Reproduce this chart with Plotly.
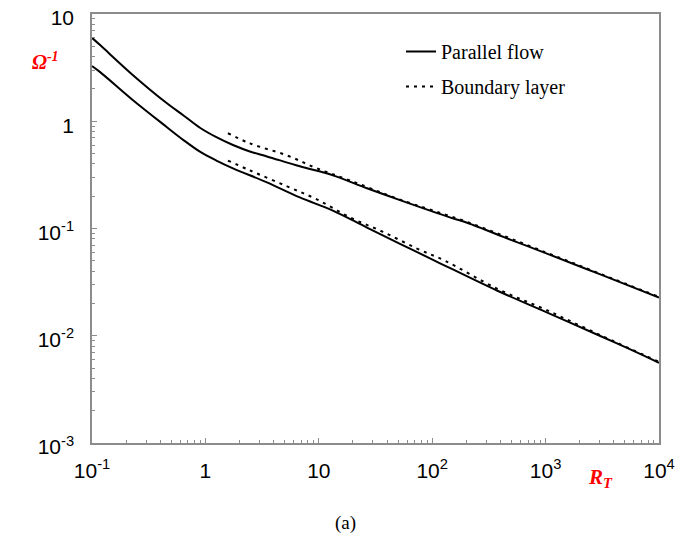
import plotly.graph_objects as go

# ---- data ----
pf_upper_x = [0.1, 0.118, 0.23, 0.458, 0.65, 0.895, 1.25, 1.75, 2.5, 3.49, 6.8, 13.3, 26.6, 52, 143, 203, 500, 1000, 3000, 10000]
pf_upper_y = [6.0, 5.13, 2.69, 1.47, 1.12, 0.87, 0.71, 0.60, 0.52, 0.47, 0.38, 0.313, 0.237, 0.184, 0.127, 0.113, 0.078, 0.059, 0.0375, 0.0227]

pf_lower_x = [0.1, 0.118, 0.23, 0.458, 0.65, 0.895, 1.25, 1.75, 3.49, 6.8, 13.3, 26.6, 52, 106, 372, 1000, 3000, 5220, 10000]
pf_lower_y = [3.27, 2.87, 1.57, 0.88, 0.66, 0.52, 0.43, 0.364, 0.269, 0.195, 0.147, 0.102, 0.072, 0.050, 0.0264, 0.0167, 0.0100, 0.0077, 0.0056]

bl_upper_x = [1.58, 2.47, 5.25, 9.6, 18.8, 52, 203, 1000, 3000, 10000]
bl_upper_y = [0.773, 0.622, 0.48, 0.364, 0.281, 0.186, 0.115, 0.060, 0.038, 0.023]

bl_lower_x = [1.58, 2.47, 5.25, 9.6, 18.8, 36.8, 73.5, 130, 372, 1000, 3000, 10000]
bl_lower_y = [0.43, 0.348, 0.247, 0.187, 0.127, 0.093, 0.065, 0.050, 0.0275, 0.0175, 0.0102, 0.0057]

x_tickvals = [0.1, 1, 10, 100, 1000, 10000]
x_ticktext = ["10<sup>-1</sup>", "1", "10", "10<sup>2</sup>", "10<sup>3</sup>", "10<sup>4</sup>"]
y_tickvals = [0.001, 0.01, 0.1, 1, 10]
y_ticktext = ["10<sup>-3</sup>", "10<sup>-2</sup>", "10<sup>-1</sup>", "1", "10"]

s1_point = (203, 0.116)
s2_point = (380, 0.0281)

SANS = "Arial, Liberation Sans, sans-serif"
SERIF = "Times New Roman, Liberation Serif, serif"

# plot area in page pixels (the page body adds an 8px offset)
PX_L, PX_R, PX_T, PX_B = 92, 659, 14, 443
PW, PH = PX_R - PX_L, PX_B - PX_T


def px_to_paper(px, py):
    return (px - PX_L) / PW, (PX_B - py) / PH


fig = go.Figure()
fig.add_trace(go.Scatter(x=pf_upper_x, y=pf_upper_y, mode="lines", name="Parallel flow",
                         line=dict(color="black", width=2, shape="spline", smoothing=1.0),
                         legendgroup="pf"))
fig.add_trace(go.Scatter(x=pf_lower_x, y=pf_lower_y, mode="lines", name="Parallel flow",
                         line=dict(color="black", width=2, shape="spline", smoothing=1.0),
                         legendgroup="pf", showlegend=False))
fig.add_trace(go.Scatter(x=bl_upper_x, y=bl_upper_y, mode="lines", name="Boundary layer",
                         line=dict(color="black", width=2, dash="3px,5px", shape="spline", smoothing=1.0),
                         legendgroup="bl"))
fig.add_trace(go.Scatter(x=bl_lower_x, y=bl_lower_y, mode="lines", name="Boundary layer",
                         line=dict(color="black", width=2, dash="3px,5px", shape="spline", smoothing=1.0),
                         legendgroup="bl", showlegend=False))

minor_x = [m * 10 ** e for e in range(-1, 4) for m in range(2, 10)]
minor_y = [m * 10 ** e for e in range(-3, 1) for m in range(2, 10)]

axis_common = dict(
    type="log", showgrid=False, zeroline=False, automargin=False,
    showline=True, linecolor="#8c8c8c", linewidth=1.5, mirror=True,
    ticks="inside", ticklen=5, tickcolor="#8c8c8c", tickwidth=1,
    tickfont=dict(family=SANS, size=21, color="black"),
    ticklabeloverflow="allow",
)

fig.update_xaxes(range=[-1, 4], tickmode="array", tickvals=x_tickvals, ticktext=x_ticktext,
                 minor=dict(tickvals=minor_x, ticks="inside", ticklen=3, tickcolor="#8c8c8c"),
                 ticklabelstandoff=8, **axis_common)
fig.update_yaxes(range=[-3, 1], tickmode="array", tickvals=y_tickvals, ticktext=y_ticktext,
                 minor=dict(tickvals=minor_y, ticks="inside", ticklen=3, tickcolor="#8c8c8c"),
                 ticklabelstandoff=12, ticklabelshift=4, **axis_common)

fig.add_annotation(x=s1_point[0], y=s1_point[1], xref="x", yref="y",
                   text="S<sub>1</sub>", showarrow=True, ax=0, ay=-46,
                   arrowhead=2, arrowsize=1, arrowwidth=1.5, arrowcolor="black",
                   font=dict(family=SERIF, size=20, color="black"))
fig.add_annotation(x=s2_point[0], y=s2_point[1], xref="x", yref="y",
                   text="S<sub>2</sub>", showarrow=True, ax=0, ay=56,
                   arrowhead=2, arrowsize=1, arrowwidth=1.5, arrowcolor="black",
                   font=dict(family=SERIF, size=20, color="black"))

ox, oy = px_to_paper(30, 47)
fig.add_annotation(x=ox, y=oy, xref="paper", yref="paper",
                   text="<b><i>Ω<sup>-1</sup></i></b>", showarrow=False,
                   font=dict(family=SERIF, size=20, color="red"))
rx, ry = px_to_paper(615, 493)
fig.add_annotation(x=rx, y=ry, xref="paper", yref="paper",
                   text="<b><i>R<sub>T</sub></i></b>", showarrow=False,
                   font=dict(family=SERIF, size=21, color="red"))
ax_, ay_ = px_to_paper(345, 536)
fig.add_annotation(x=ax_, y=ay_, xref="paper", yref="paper",
                   text="(a)", showarrow=False,
                   font=dict(family=SERIF, size=19, color="black"))

lx, ly = px_to_paper(401, 32)
fig.update_layout(
    width=684, height=542,
    margin=dict(l=PX_L - 8, r=684 - (PX_R - 8), t=PX_T - 8, b=542 - (PX_B - 8)),
    paper_bgcolor="white", plot_bgcolor="white",
    legend=dict(x=lx, y=ly, xanchor="left", yanchor="top",
                bgcolor="rgba(0,0,0,0)", font=dict(family=SERIF, size=20, color="black"),
                tracegroupgap=6, traceorder="grouped"),
)

fig.write_html("out.html")
